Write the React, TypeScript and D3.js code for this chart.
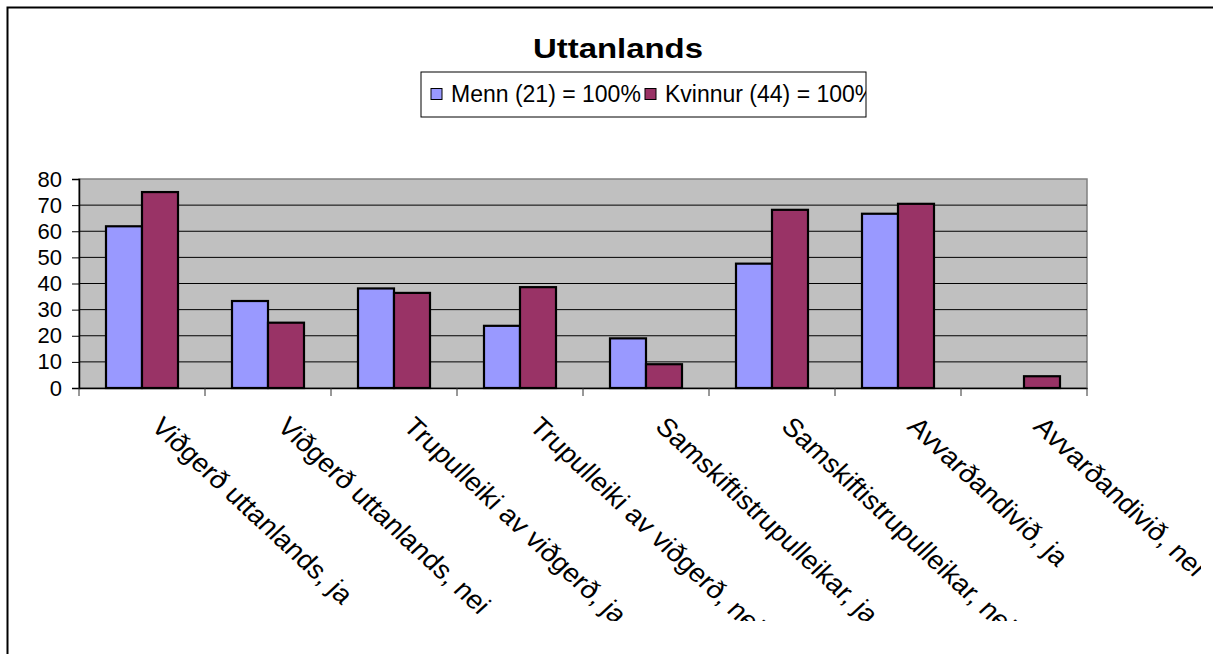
import * as d3 from "d3";
import { useEffect, useRef } from "react";

const categories = [
  "Viðgerð uttanlands, ja",
  "Viðgerð uttanlands, nei",
  "Trupulleiki av viðgerð, ja",
  "Trupulleiki av viðgerð, nei",
  "Samskiftistrupulleikar, ja",
  "Samskiftistrupulleikar, nei",
  "Avvarðandivið, ja",
  "Avvarðandivið, nei",
];
const seriesNames = ["Menn (21) = 100%", "Kvinnur (44) = 100%"];
const menn = [61.9, 33.3, 38.1, 23.8, 19.0, 47.6, 66.7, 0];
const kvinnur = [75.0, 25.0, 36.4, 38.6, 9.1, 68.2, 70.5, 4.5];
const yTicks = [0, 10, 20, 30, 40, 50, 60, 70, 80];
const colors = ["#9999FF", "#993366"];

export default function App() {
  const svgRef = useRef<SVGSVGElement>(null);

  useEffect(() => {
    if (!svgRef.current) return;
    const svg = d3.select(svgRef.current);
    svg.selectAll("*").remove();

    const W = 1213;
    const H = 654;
    const plot = { left: 79, right: 1087, top: 179, bottom: 388 };
    const font = "Arial, 'Liberation Sans', sans-serif";

    // outer frame (right and bottom edges are off the picture)
    svg
      .append("rect")
      .attr("x", 7.5)
      .attr("y", 7.5)
      .attr("width", W + 20)
      .attr("height", H + 20)
      .attr("fill", "white")
      .attr("stroke", "#000")
      .attr("stroke-width", 2);

    const defs = svg.append("defs");
    defs
      .append("clipPath")
      .attr("id", "label-clip")
      .append("rect")
      .attr("x", 0)
      .attr("y", 0)
      .attr("width", 1201)
      .attr("height", 621);
    defs
      .append("clipPath")
      .attr("id", "legend-clip")
      .append("rect")
      .attr("x", 421)
      .attr("y", 72)
      .attr("width", 445)
      .attr("height", 45);

    const x = d3
      .scaleBand<string>()
      .domain(categories)
      .range([plot.left, plot.right]);
    const xs = d3.scaleBand<number>().domain([0, 1]).range([27, 99]);
    const y = d3.scaleLinear().domain([0, 80]).range([plot.bottom, plot.top]);

    // plot background
    svg
      .append("rect")
      .attr("x", plot.left)
      .attr("y", plot.top)
      .attr("width", plot.right - plot.left)
      .attr("height", plot.bottom - plot.top)
      .attr("fill", "#C0C0C0")
      .attr("stroke", "#808080")
      .attr("stroke-width", 1.5);

    // gridlines
    svg
      .append("g")
      .selectAll("line")
      .data(yTicks.filter((t) => t > 0 && t < 80))
      .enter()
      .append("line")
      .attr("x1", plot.left)
      .attr("x2", plot.right)
      .attr("y1", (d) => y(d))
      .attr("y2", (d) => y(d))
      .attr("stroke", "#000")
      .attr("stroke-width", 1);

    // bars
    const series = [menn, kvinnur];
    series.forEach((vals, si) => {
      svg
        .append("g")
        .selectAll("rect")
        .data(
          vals.map((v, i) => ({ v, c: categories[i] })).filter((d) => d.v > 0),
        )
        .enter()
        .append("rect")
        .attr("x", (d) => (x(d.c) ?? 0) + (xs(si) ?? 0))
        .attr("y", (d) => y(d.v))
        .attr("width", xs.bandwidth())
        .attr("height", (d) => y(0) - y(d.v))
        .attr("fill", colors[si])
        .attr("stroke", "#000")
        .attr("stroke-width", 2.2);
    });

    // y axis
    const yAxis = svg
      .append("g")
      .attr("transform", `translate(${plot.left},0)`)
      .call(d3.axisLeft(y).tickValues(yTicks).tickSize(7).tickPadding(10));
    yAxis.select(".domain").attr("stroke", "#000").attr("stroke-width", 1.5);
    yAxis.selectAll(".tick line").attr("stroke", "#000");
    yAxis
      .selectAll(".tick text")
      .attr("fill", "#000")
      .style("font-family", font)
      .style("font-size", "22px");

    // x axis
    const xAxis = svg
      .append("g")
      .attr("transform", `translate(0,${plot.bottom})`)
      .call(d3.axisBottom(x).tickSize(0).tickFormat(() => ""));
    xAxis.select(".domain").attr("stroke", "#000").attr("stroke-width", 1.5);
    svg
      .append("g")
      .selectAll("line")
      .data([...categories.map((c) => x(c) ?? 0), plot.right])
      .enter()
      .append("line")
      .attr("x1", (d) => d)
      .attr("x2", (d) => d)
      .attr("y1", plot.bottom)
      .attr("y2", plot.bottom + 8)
      .attr("stroke", "#333")
      .attr("stroke-width", 1);

    // category labels, rotated (slightly stretched like the original)
    svg
      .append("g")
      .attr("clip-path", "url(#label-clip)")
      .selectAll("text")
      .data(categories)
      .enter()
      .append("text")
      .attr(
        "transform",
        (d) =>
          `translate(${(x(d) ?? 0) + x.bandwidth() / 2 + 8},${428}) scale(1.08,1) rotate(45)`,
      )
      .attr("text-anchor", "start")
      .style("font-family", font)
      .style("font-size", "26px")
      .attr("fill", "#000")
      .text((d) => d);

    // title
    svg
      .append("text")
      .attr("x", 618)
      .attr("y", 58)
      .attr("text-anchor", "middle")
      .style("font-family", font)
      .style("font-size", "28px")
      .style("font-weight", "bold")
      .attr("textLength", 170)
      .attr("lengthAdjust", "spacingAndGlyphs")
      .text("Uttanlands");

    // legend
    svg
      .append("rect")
      .attr("x", 421)
      .attr("y", 72)
      .attr("width", 445)
      .attr("height", 45)
      .attr("fill", "white")
      .attr("stroke", "#000")
      .attr("stroke-width", 1);
    const legend = svg.append("g").attr("clip-path", "url(#legend-clip)");
    const legendX = [431, 645];
    seriesNames.forEach((name, i) => {
      legend
        .append("rect")
        .attr("x", legendX[i])
        .attr("y", 88.5)
        .attr("width", 11)
        .attr("height", 11)
        .attr("fill", colors[i])
        .attr("stroke", "#000")
        .attr("stroke-width", 1);
      legend
        .append("text")
        .attr("x", legendX[i] + 20)
        .attr("y", 102)
        .style("font-family", font)
        .style("font-size", "23px")
        .attr("fill", "#000")
        .text(name);
    });
  }, []);

  return (
    <div style={{ position: "fixed", left: 0, top: 0 }}>
      <svg ref={svgRef} width={1213} height={654} style={{ display: "block" }} />
    </div>
  );
}
